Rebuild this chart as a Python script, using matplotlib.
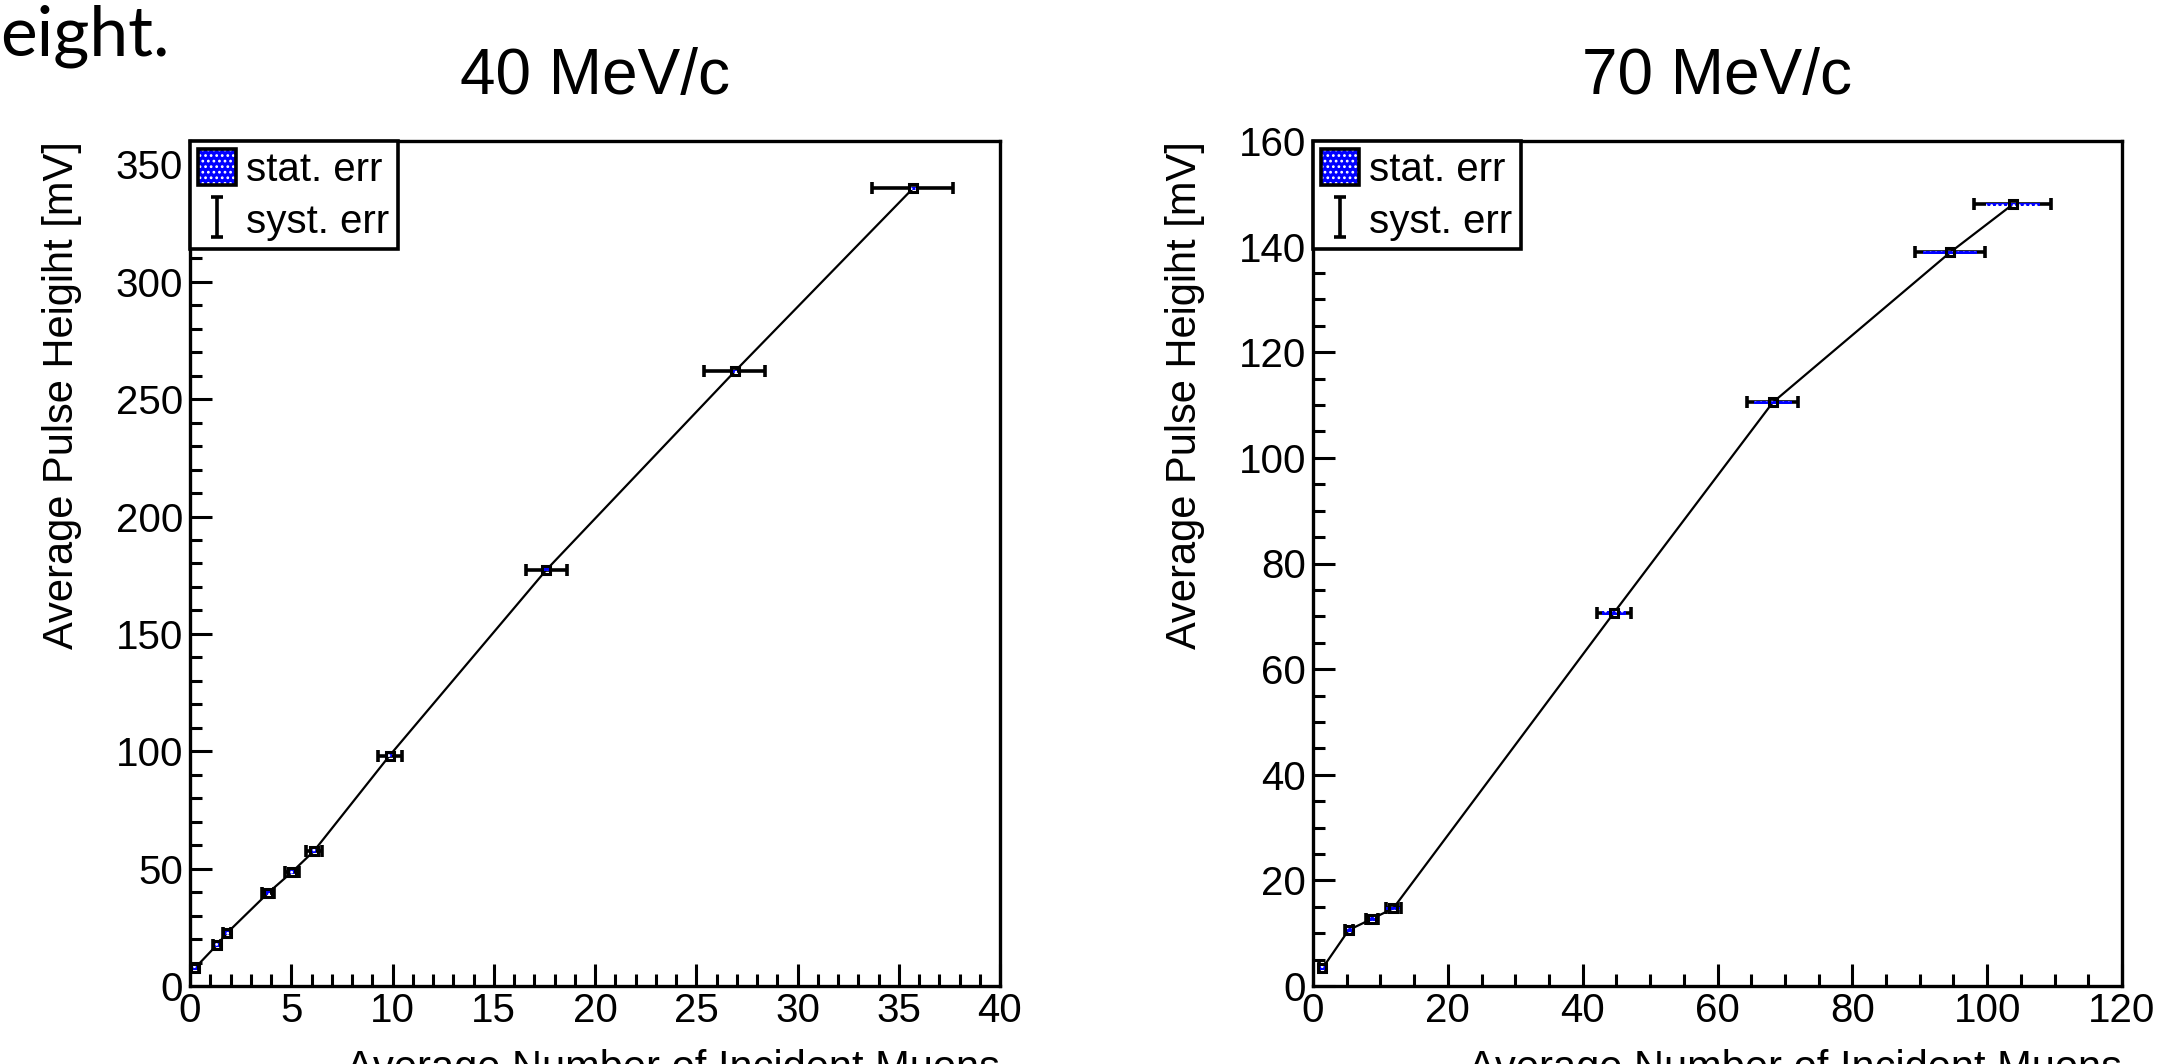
import numpy as np
import matplotlib
matplotlib.use("Agg")
import matplotlib.pyplot as plt
from matplotlib.patches import Patch
from matplotlib.legend_handler import HandlerTuple
from matplotlib.ticker import MultipleLocator

# 40 MeV/c
mu40 = [0.25, 1.33, 1.83, 3.85, 5.04, 6.12, 9.86, 17.6, 26.9, 35.7]
ph40 = [7.7, 17.5, 22.6, 39.6, 48.6, 57.5, 98.2, 177.3, 261.8, 339.8]
syst40 = [0.2, 0.2, 0.2, 0.3, 0.35, 0.4, 0.6, 1.0, 1.5, 2.0]
stat40 = [0.08, 0.08, 0.08, 0.08, 0.1, 0.1, 0.1, 0.12, 0.12, 0.15]
staty40 = 0.7

# 70 MeV/c
mu70 = [1.4, 5.3, 8.8, 11.9, 44.6, 68.2, 94.5, 103.8]
ph70 = [3.35, 10.6, 12.75, 14.7, 70.6, 110.5, 138.9, 148.0]
syst70 = [0.5, 0.6, 0.9, 1.1, 2.5, 3.8, 5.2, 5.7]
stat70 = [0.4, 0.5, 0.8, 1.0, 1.8, 2.8, 4.0, 4.0]
staty70 = 0.35

plt.rcParams["font.family"] = ["Liberation Sans", "DejaVu Sans"]
plt.rcParams["hatch.linewidth"] = 1.2

FS = 29

fig = plt.figure(figsize=(21.74, 10.64), dpi=100)
ax1 = fig.add_axes([190 / 2174, 1 - 986 / 1064, 810 / 2174, 845 / 1064])
ax2 = fig.add_axes([1313 / 2174, 1 - 986 / 1064, 809 / 2174, 845 / 1064])


def draw_panel(ax, x, y, syst, stat, staty, xmax, ymax, xmaj, xmin, ymaj, ymin, title):
    x = np.array(x)
    y = np.array(y)
    ax.plot(x, y, color="black", lw=1.6, zorder=2)
    ax.errorbar(x, y, xerr=syst, fmt="none", ecolor="black", elinewidth=2.6,
                capsize=4, capthick=2.6, zorder=3)
    ax.bar(x, 2 * staty, bottom=y - staty, width=2 * np.array(stat),
           color="#0000ff", edgecolor="white", hatch="...", linewidth=0, zorder=4)
    ax.plot(x, y, ls="none", marker="s", ms=6, mfc="none", mec="black", mew=2.2, zorder=5)

    ax.set_xlim(0, xmax)
    ax.set_ylim(0, ymax)
    ax.xaxis.set_major_locator(MultipleLocator(xmaj))
    ax.xaxis.set_minor_locator(MultipleLocator(xmin))
    ax.yaxis.set_major_locator(MultipleLocator(ymaj))
    ax.yaxis.set_minor_locator(MultipleLocator(ymin))
    ax.tick_params(which="both", direction="in", top=False, right=False,
                   width=2.2, labelsize=FS)
    ax.tick_params(which="major", length=16)
    ax.tick_params(which="minor", length=8.5)
    ax.tick_params(axis="x", pad=4)
    ax.tick_params(axis="y", pad=5)
    for s in ax.spines.values():
        s.set_linewidth(2.4)

    # label sits partly below the picture's edge, as in the source screenshot
    ax.set_xlabel("Average Number of Incident Muons", fontsize=30, loc="right", labelpad=14)
    ax.set_ylabel("Average Pulse Heigiht [mV]", fontsize=30, loc="top", labelpad=24)
    ax.set_title(title, fontsize=46, pad=34)

    stat_handle = (Patch(facecolor="#0000ff", edgecolor="white", hatch="...", linewidth=0),
                   Patch(facecolor="none", edgecolor="black", linewidth=2.6))
    syst_handle = ax.errorbar([np.nan], [np.nan], yerr=[1], fmt="none", ecolor="black",
                              elinewidth=2.6, capsize=4, capthick=2.6)
    leg = ax.legend([stat_handle, syst_handle], ["stat. err", "syst. err"],
                    handler_map={tuple: HandlerTuple(ndivide=1)},
                    loc="upper left", bbox_to_anchor=(0, 1), borderaxespad=0,
                    fancybox=False, framealpha=1, edgecolor="black", fontsize=FS,
                    handlelength=0.95, handleheight=1.0, handletextpad=0.25,
                    borderpad=0.2, labelspacing=0.3, numpoints=1)
    leg.get_frame().set_linewidth(2.6)


draw_panel(ax1, mu40, ph40, syst40, stat40, staty40, 40, 360, 5, 1, 50, 10, "40 MeV/c")
draw_panel(ax2, mu70, ph70, syst70, stat70, staty70, 120, 160, 20, 5, 20, 5, "70 MeV/c")

fig.text(0.0, 1 - 56 / 1064, "eight.", fontsize=50, family=["Lato", "DejaVu Sans"],
         ha="left", va="baseline", color="black")

fig.savefig("out.png", dpi=100)
